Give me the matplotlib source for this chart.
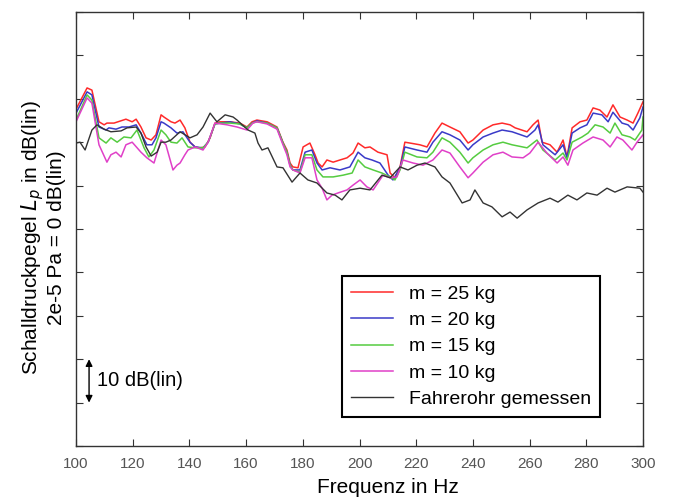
import matplotlib.pyplot as plt

plt.rcParams['font.family'] = ['Liberation Sans', 'DejaVu Sans']

# Frequenz in Hz / Pegel in dB(lin)
f_25 = [100, 103.9, 105.6, 108.1, 109.9, 110.9, 113.4, 117.6, 119.8, 121.2, 122.9, 124.7, 126.5, 128.2,
        130.0, 131.0, 133.5, 134.9, 136.7, 138.4, 140.2, 142.0, 143.7, 145.5, 147.3, 149.0, 150.8, 154.3,
        157.8, 160.3, 162.1, 163.8, 167.4, 170.9, 173.0, 174.4, 175.5, 176.5, 178.3, 180.1, 182.5, 184.3,
        185.4, 186.8, 188.5, 190.7, 193.1, 195.6, 197.7, 199.5, 201.9, 203.7, 206.5, 209.7, 210.8, 212.5,
        214.3, 216.0, 217.8, 221.3, 223.8, 226.6, 229.1, 231.9, 235.4, 238.3, 240.0, 243.6, 247.1, 250.3,
        253.1, 254.9, 259.1, 261.2, 263.0, 264.4, 267.2, 269.7, 271.8, 273.2, 275.0, 277.8, 280.2, 282.4,
        284.8, 287.3, 289.4, 291.9, 294.4, 296.5, 298.2, 300.0]
L_25 = [77.6, 82.5, 82.0, 74.7, 74.0, 74.4, 74.4, 75.3, 74.7, 75.3, 73.5, 71.0, 70.5, 71.7,
        76.3, 75.8, 74.7, 74.4, 75.1, 73.3, 70.0, 68.9, 68.7, 68.9, 71.0, 74.4, 74.7, 74.7,
        74.4, 73.5, 74.7, 75.1, 74.7, 73.5, 70.0, 68.2, 65.2, 64.3, 64.1, 68.9, 69.8, 67.1,
        65.2, 64.3, 65.9, 65.4, 65.9, 66.4, 67.5, 69.8, 68.7, 68.9, 67.7, 67.1, 62.9, 61.8,
        64.3, 70.0, 69.8, 69.4, 68.9, 72.1, 74.4, 73.5, 72.4, 69.8, 70.5, 72.8, 74.0, 74.4,
        74.0, 73.3, 72.4, 74.0, 75.1, 70.0, 69.4, 67.7, 70.5, 66.6, 73.3, 74.7, 75.1, 77.9,
        77.4, 75.8, 78.6, 75.8, 75.1, 74.4, 76.7, 79.3]

f_20 = [100, 103.9, 105.6, 108.1, 110.6, 111.6, 114.1, 116.2, 118.7, 121.2, 122.9, 125.0, 126.8, 128.2,
        130.0, 131.0, 133.5, 135.6, 137.7, 140.2, 142.0, 144.8, 146.6, 149.0, 150.8, 154.3, 157.8, 160.3,
        162.1, 163.8, 167.4, 170.9, 173.0, 174.4, 175.5, 176.5, 179.0, 180.8, 183.2, 185.0, 186.8, 189.6,
        193.1, 196.6, 199.5, 201.9, 204.4, 207.2, 210.1, 211.8, 214.3, 216.0, 220.3, 223.8, 225.9, 229.1,
        231.9, 235.4, 238.3, 240.0, 243.6, 247.1, 250.3, 253.8, 259.1, 261.9, 263.0, 264.7, 269.0, 271.8,
        273.2, 275.0, 277.8, 280.2, 282.4, 285.5, 287.7, 289.4, 292.6, 294.7, 296.5, 298.9, 300.0]
L_20 = [76.7, 81.6, 80.9, 73.5, 72.8, 73.3, 73.0, 73.5, 73.5, 74.0, 72.1, 69.4, 69.4, 71.0,
        74.7, 74.4, 73.3, 72.1, 72.4, 70.0, 68.9, 68.7, 70.0, 74.2, 74.4, 74.7, 74.2, 73.3,
        74.4, 74.9, 74.4, 73.3, 69.8, 67.7, 64.7, 63.6, 63.6, 67.7, 68.2, 65.2, 63.6, 64.1,
        63.6, 64.3, 67.7, 66.4, 65.9, 65.2, 62.4, 61.3, 64.1, 68.9, 68.2, 67.7, 70.0, 72.4,
        71.7, 70.5, 68.2, 69.4, 71.2, 72.1, 72.8, 72.4, 71.2, 72.8, 74.0, 69.4, 67.1, 69.4,
        66.4, 72.1, 73.3, 74.0, 76.7, 76.3, 74.7, 76.9, 74.4, 74.0, 72.8, 75.6, 78.1]

f_15 = [100, 103.9, 105.6, 108.1, 110.6, 112.3, 114.5, 116.9, 119.4, 121.5, 124.0, 125.7, 127.5, 130.0,
        131.7, 133.5, 135.6, 137.4, 139.5, 142.0, 144.8, 146.6, 149.0, 150.8, 154.3, 157.8, 160.3, 162.1,
        163.8, 167.4, 170.9, 173.0, 174.4, 175.5, 176.5, 179.0, 180.8, 183.2, 185.0, 187.1, 190.7, 194.2,
        197.4, 199.5, 201.9, 204.8, 207.9, 210.8, 212.5, 214.3, 216.0, 220.3, 223.8, 225.9, 229.1, 231.9,
        235.4, 238.3, 240.0, 243.6, 247.1, 250.6, 253.8, 259.1, 262.6, 264.7, 269.0, 271.8, 273.2, 275.0,
        278.5, 280.6, 283.1, 285.9, 288.4, 290.1, 292.6, 295.4, 297.2, 299.6, 300.0]
L_15 = [75.1, 80.9, 79.7, 71.0, 69.8, 71.0, 70.0, 71.2, 71.0, 72.8, 68.7, 66.6, 68.2, 72.8,
        71.7, 70.0, 69.8, 71.0, 68.9, 68.7, 68.7, 70.0, 74.2, 74.4, 74.4, 74.2, 73.3, 74.4,
        74.7, 74.4, 73.3, 69.8, 67.7, 64.7, 63.6, 63.1, 67.1, 67.1, 63.6, 62.0, 62.0, 62.4,
        62.9, 65.9, 64.3, 63.6, 62.9, 62.0, 61.3, 63.6, 67.7, 66.6, 66.4, 67.7, 71.0, 70.0,
        67.7, 65.2, 66.4, 68.2, 69.4, 70.0, 69.4, 68.7, 70.5, 68.2, 65.9, 67.5, 65.9, 70.0,
        71.2, 72.1, 74.0, 73.5, 72.1, 74.4, 71.7, 71.2, 70.5, 72.8, 75.8]

f_10 = [100, 103.9, 105.6, 108.1, 110.9, 112.3, 114.1, 115.9, 117.6, 119.8, 122.9, 125.0, 127.5, 130.0,
        131.7, 134.2, 135.6, 136.7, 138.4, 139.5, 142.0, 144.8, 146.6, 149.0, 153.3, 156.8, 160.3, 162.4,
        163.8, 167.4, 170.9, 173.0, 174.4, 175.5, 176.5, 179.0, 180.8, 183.2, 185.0, 186.8, 188.5, 190.3,
        192.4, 195.6, 197.7, 200.2, 202.6, 204.8, 208.3, 210.8, 213.2, 215.3, 218.9, 222.4, 225.9, 229.1,
        231.9, 235.4, 238.3, 240.0, 243.6, 247.1, 250.6, 253.8, 257.7, 260.1, 263.0, 266.1, 269.7, 271.8,
        273.5, 275.3, 278.8, 282.4, 285.9, 288.4, 290.8, 292.9, 296.1, 297.9, 300.0]
L_10 = [74.7, 80.2, 79.0, 69.4, 65.4, 67.1, 67.7, 66.6, 69.4, 70.0, 67.7, 66.4, 65.2, 70.5,
        69.4, 63.6, 64.7, 65.2, 67.1, 68.2, 68.9, 68.2, 70.0, 74.4, 74.0, 73.5, 72.8, 74.4,
        74.7, 74.2, 73.0, 69.4, 67.1, 64.3, 63.6, 62.9, 66.4, 66.4, 61.3, 59.4, 56.7, 57.8,
        58.3, 59.0, 60.1, 61.3, 59.7, 59.0, 62.4, 61.8, 62.0, 65.9, 65.2, 64.7, 65.9, 68.2,
        67.5, 64.3, 61.8, 62.9, 65.4, 67.1, 67.7, 66.6, 66.4, 67.5, 70.0, 67.5, 65.2, 66.6,
        64.7, 68.2, 69.8, 71.2, 70.5, 68.9, 71.2, 70.5, 68.2, 70.0, 71.7]

f_mess = [100, 101.4, 103.2, 105.6, 107.4, 109.9, 112.3, 115.9, 118.0, 121.2, 122.9, 124.7, 126.5, 128.6,
          130.0, 131.7, 133.5, 136.7, 140.2, 142.7, 144.8, 147.3, 149.7, 152.6, 155.4, 156.8, 158.6, 160.7,
          163.1, 164.2, 165.6, 167.7, 170.9, 173.0, 176.2, 179.0, 181.8, 185.0, 188.5, 191.4, 193.8, 196.6,
          200.2, 203.7, 207.9, 210.8, 214.3, 217.1, 220.3, 223.1, 226.6, 229.1, 231.9, 236.2, 239.0, 240.7,
          243.6, 246.7, 250.3, 253.1, 255.6, 259.1, 263.0, 267.2, 270.0, 273.5, 276.7, 280.2, 283.8, 287.3,
          290.1, 294.4, 298.9, 300.0]
L_mess = [69.8, 70.0, 68.2, 72.8, 74.0, 73.0, 72.4, 72.6, 73.3, 73.5, 72.1, 68.9, 66.8, 67.7,
          70.0, 70.0, 70.5, 72.4, 71.0, 71.7, 73.5, 76.7, 74.7, 76.3, 75.8, 75.1, 74.0, 72.8,
          72.1, 69.8, 68.2, 68.7, 64.3, 64.1, 60.8, 62.9, 61.3, 60.6, 58.3, 57.8, 56.7, 59.0,
          59.4, 59.0, 62.4, 61.8, 64.3, 63.6, 64.7, 65.2, 64.3, 62.0, 60.6, 56.0, 56.7, 59.0,
          56.0, 55.1, 52.8, 53.9, 52.5, 54.4, 56.0, 57.1, 56.2, 57.8, 56.7, 58.3, 57.8, 59.4,
          58.5, 59.7, 59.4, 58.5]

xticks = list(range(100, 301, 20))
yticks = list(range(0, 101, 10))

fig = plt.figure(figsize=(6.74, 4.97), dpi=100)
ax = fig.add_axes([0.1128, 0.1026, 0.8412, 0.8733])

ax.plot(f_25, L_25, color='#ff2a2a', lw=1.1, label='m = 25 kg')
ax.plot(f_20, L_20, color='#3a3ac8', lw=1.1, label='m = 20 kg')
ax.plot(f_15, L_15, color='#55cc40', lw=1.1, label='m = 15 kg')
ax.plot(f_10, L_10, color='#e040c8', lw=1.1, label='m = 10 kg')
ax.plot(f_mess, L_mess, color='#333333', lw=1.0, label='Fahrerohr gemessen')

ax.set_xlim(100, 300)
ax.set_ylim(0, 100)
ax.set_xticks(xticks)
ax.set_xticklabels([str(t) for t in xticks], color='#555555', fontsize=11)
ax.set_yticks(yticks)
ax.set_yticklabels([])
ax.tick_params(direction='in', length=5, top=True, right=True, color='#333333', pad=8)
for s in ax.spines.values():
    s.set_color('#333333')
    s.set_linewidth(1.0)

ax.set_xlabel('Frequenz in Hz', fontsize=15)
ax.xaxis.set_label_coords(0.55, -0.074)
ax.set_ylabel('Schalldruckpegel $L_p$ in dB(lin)\n2e-5 Pa = 0 dB(lin)', fontsize=15, linespacing=1.1)
ax.yaxis.set_label_coords(-0.017, 0.48)

# 10 dB scale bar
ax.annotate('', xy=(104.6, 10), xytext=(104.6, 20),
            arrowprops=dict(arrowstyle='<|-|>', color='black', lw=1.0, mutation_scale=10, shrinkA=0, shrinkB=0))
ax.text(107.5, 15, '10 dB(lin)', fontsize=14.5, va='center', ha='left')

leg = ax.legend(loc='lower right', bbox_to_anchor=(0.924, 0.067), borderaxespad=0, fontsize=14,
                fancybox=False, edgecolor='black', framealpha=1, borderpad=0.45, labelspacing=0.45,
                handlelength=2.2, handletextpad=0.8)
leg.get_frame().set_linewidth(1.5)

fig.savefig('out.png', dpi=100)
